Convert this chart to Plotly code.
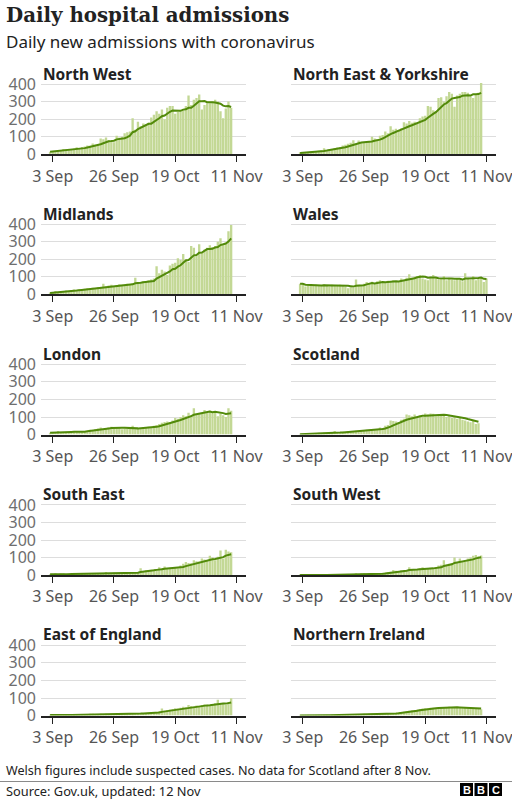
import pandas as pd
import plotly.graph_objects as go

regions = ["North West", "North East & Yorkshire", "Midlands", "Wales", "London",
           "Scotland", "South East", "South West", "East of England", "Northern Ireland"]
start_date = "2020-09-02"

north_west = [15, 18, 14, 22, 24, 30, 27,
              25, 26, 32, 40, 36, 42, 45,
              50, 48, 62, 55, 52, 90, 85,
              95, 80, 72, 68, 105, 95, 100,
              120, 125, 130, 205, 140, 185, 160,
              175, 170, 180, 210, 225, 245, 230,
              255, 200, 265, 275, 275, 230, 240,
              245, 250, 275, 335, 280, 310, 320,
              340, 255, 280, 290, 290, 300, 310,
              300, 245, 205, 260, 300, 265]
north_east_yorkshire = [8, 10, 12, 10, 14, 15, 18,
                        20, 22, 35, 25, 28, 30, 35,
                        38, 42, 50, 55, 60, 65, 80,
                        60, 78, 70, 68, 65, 72, 100,
                        90, 85, 105, 110, 130, 120, 160,
                        140, 145, 135, 150, 182, 175, 190,
                        180, 185, 175, 205, 215, 220, 275,
                        270, 250, 245, 320, 325, 300, 330,
                        355, 345, 270, 335, 345, 355, 355,
                        350, 330, 320, 340, 350, 405]
midlands = [8, 10, 20, 14, 15, 18, 22,
            20, 25, 28, 27, 30, 30, 32,
            35, 33, 38, 36, 40, 42, 60,
            45, 50, 55, 48, 52, 58, 55,
            55, 60, 58, 62, 95, 60, 70,
            75, 72, 80, 85, 90, 160, 120,
            140, 130, 110, 165, 175, 180, 205,
            195, 230, 200, 185, 275, 265, 220,
            285, 240, 255, 265, 280, 270, 275,
            300, 320, 285, 295, 360, 395]
wales = [60, 60, 45, 50, 55, 52, 55,
         50, 48, 58, 50, 45, 55, 52,
         50, 55, 48, 45, 35, 40, 38,
         85, 55, 50, 60, 70, 65, 72,
         60, 75, 80, 70, 65, 78, 72,
         80, 75, 70, 90, 80, 95, 115,
         95, 100, 105, 110, 90, 85, 80,
         100, 110, 95, 85, 90, 105, 80,
         95, 85, 80, 90, 85, 75, 120,
         95, 85, 105, 80, 90, 95, 70,
         90]
london = [10, 12, 15, 20, 12, 14, 15,
          14, 16, 18, 15, 17, 18, 20,
          25, 28, 22, 30, 35, 40, 32,
          38, 42, 45, 40, 38, 42, 30,
          35, 32, 36, 50, 30, 35, 38,
          40, 42, 45, 38, 50, 55, 60,
          68, 72, 75, 70, 80, 95, 90,
          100, 110, 105, 125, 110, 150, 115,
          120, 125, 140, 130, 135, 125, 130,
          105, 120, 110, 100, 150, 135]
scotland = [2, 3, 4, 2, 3, 5, 4,
            6, 5, 8, 7, 10, 9, 20,
            12, 14, 16, 15, 18, 20, 18,
            22, 24, 26, 22, 28, 28, 32,
            30, 26, 40, 38, 50, 55, 80,
            78, 75, 70, 85, 90, 115, 110,
            105, 115, 95, 110, 100, 120, 115,
            120, 118, 105, 112, 115, 110, 100,
            105, 95, 100, 90, 95, 85, 80,
            75, 70, 80, 60, 65]
south_east = [5, 4, 6, 5, 7, 6, 5,
              6, 8, 7, 6, 9, 8, 10,
              9, 8, 7, 10, 9, 8, 11,
              18, 12, 11, 14, 13, 12, 10,
              14, 12, 15, 13, 18, 16, 40,
              22, 28, 30, 25, 32, 35, 45,
              40, 50, 38, 42, 40, 45, 40,
              55, 65, 75, 70, 68, 85, 80,
              78, 95, 90, 85, 110, 100, 85,
              105, 140, 95, 145, 135, 130]
south_west = [1, 2, 1, 2, 1, 2, 1,
              2, 1, 2, 3, 2, 2, 3,
              3, 4, 3, 5, 4, 3, 5,
              6, 5, 7, 6, 5, 6, 8,
              7, 8, 10, 12, 15, 18, 20,
              30, 25, 22, 28, 30, 25, 45,
              30, 35, 32, 40, 45, 35, 40,
              42, 38, 45, 55, 60, 85, 55,
              65, 70, 100, 75, 95, 80, 75,
              95, 100, 110, 115, 108, 112]
east_of_england = [3, 2, 4, 3, 2, 3, 4,
                   3, 4, 5, 4, 3, 5, 4,
                   5, 8, 6, 5, 4, 6, 5,
                   6, 5, 7, 8, 6, 9, 10,
                   8, 10, 12, 11, 13, 12, 14,
                   15, 13, 16, 18, 17, 20, 25,
                   40, 28, 30, 35, 38, 42, 40,
                   45, 50, 48, 60, 55, 52, 58,
                   55, 60, 65, 62, 58, 65, 70,
                   90, 65, 68, 62, 70, 98]
northern_ireland = [1, 2, 1, 2, 2, 1, 2,
                    2, 3, 2, 3, 2, 3, 3,
                    3, 2, 4, 3, 4, 5, 4,
                    5, 4, 5, 6, 5, 6, 7,
                    6, 8, 9, 10, 12, 11, 13,
                    15, 14, 18, 20, 22, 25, 28,
                    30, 32, 35, 38, 40, 42, 40,
                    44, 45, 43, 46, 48, 47, 45,
                    50, 46, 48, 44, 45, 42, 44,
                    42, 40, 43, 38, 40, 36]

series = [north_west, north_east_yorkshire, midlands, wales, london,
          scotland, south_east, south_west, east_of_england, northern_ireland]

tick_dates = ["2020-09-03", "2020-09-26", "2020-10-19", "2020-11-11"]
tick_labels = ["3 Sep", "26 Sep", "19 Oct", "11 Nov"]
y_ticks = [0, 100, 200, 300, 400]
y_tick_labels = ["0", "100", "200", "300", "400"]

W, H = 512, 800
BAR = "#c3d895"
LINE = "#528a0a"
FONT = "Noto Sans"
col_x = [(41, 246), (291, 496)]
zero_px = [154.3, 294.4, 434.6, 575.2, 715.6]
px_per_unit = 0.17575
ymax = 415
x_range = ["2020-08-29 14:00", "2020-11-14 14:00"]

fig = go.Figure()
annotations = []
layout = {}
for k, (name, vals) in enumerate(zip(regions, series)):
    r, c = divmod(k, 2)
    n = k + 1
    xs = "x" if n == 1 else f"x{n}"
    ys = "y" if n == 1 else f"y{n}"
    xkey = "xaxis" if n == 1 else f"xaxis{n}"
    ykey = "yaxis" if n == 1 else f"yaxis{n}"
    dates = pd.date_range(start_date, periods=len(vals), freq="D")
    avg = pd.Series(vals, dtype=float).rolling(7, min_periods=1).mean()
    fig.add_trace(go.Bar(x=dates, y=vals, marker=dict(color=BAR, line=dict(width=0)),
                         xaxis=xs, yaxis=ys, showlegend=False, hoverinfo="skip"))
    fig.add_trace(go.Scatter(x=dates, y=avg, mode="lines", line=dict(color=LINE, width=2),
                             xaxis=xs, yaxis=ys, showlegend=False, hoverinfo="skip"))
    y0 = 1 - zero_px[r] / H
    y1 = 1 - (zero_px[r] - ymax * px_per_unit) / H
    layout[xkey] = dict(domain=[col_x[c][0] / W, col_x[c][1] / W], anchor=ys, type="date",
                        range=x_range, showline=True, linecolor="#222222", linewidth=2,
                        ticks="outside", ticklen=6, tickwidth=1, tickcolor="#222222",
                        tickvals=tick_dates, ticktext=tick_labels, showgrid=False,
                        zeroline=False, automargin=False, ticklabeloverflow="allow",
                        tickfont=dict(family=FONT, size=16, color="#555555"),
                        fixedrange=True)
    layout[ykey] = dict(domain=[y0, y1], anchor=xs, range=[0, ymax], tickvals=y_ticks,
                        ticktext=y_tick_labels, showticklabels=(c == 0), showgrid=True,
                        gridcolor="#dddddd", gridwidth=1, zeroline=False, ticks="",
                        ticklabelstandoff=4, automargin=False, showline=False,
                        tickfont=dict(family=FONT, size=16, color="#6e6e6e"), fixedrange=True)
    annotations.append(dict(text=f"<b>{name}</b>", x=col_x[c][0] / W, y=1 - (74 + 140 * r) / H,
                            xref="paper", yref="paper", xanchor="left", yanchor="middle",
                            showarrow=False, font=dict(family=FONT, size=15.5, color="#222222")))

annotations += [
    dict(text="<b>Daily hospital admissions</b>", x=4 / W, y=1 - 15 / H, xref="paper", yref="paper",
         xanchor="left", yanchor="middle", showarrow=False,
         font=dict(family="DejaVu Serif", size=19.8, color="#222222")),
    dict(text="Daily new admissions with coronavirus", x=4 / W, y=1 - 42 / H, xref="paper", yref="paper",
         xanchor="left", yanchor="middle", showarrow=False,
         font=dict(family=FONT, size=17, color="#222222")),
    dict(text="Welsh figures include suspected cases. No data for Scotland after 8 Nov.",
         x=4 / W, y=1 - 770 / H, xref="paper", yref="paper", xanchor="left", yanchor="middle",
         showarrow=False, font=dict(family=FONT, size=12.6, color="#222222")),
    dict(text="Source: Gov.uk, updated: 12 Nov", x=4 / W, y=1 - 791 / H, xref="paper", yref="paper",
         xanchor="left", yanchor="middle", showarrow=False,
         font=dict(family=FONT, size=12.8, color="#222222")),
]
shapes = [dict(type="line", xref="paper", yref="paper", x0=0, x1=1, y0=1 - 781.5 / H, y1=1 - 781.5 / H,
               line=dict(color="#8a8a8a", width=1))]
for i, letter in enumerate(["B", "B", "C"]):
    x0 = 460 + i * 14.5
    shapes.append(dict(type="rect", xref="paper", yref="paper", x0=x0 / W, x1=(x0 + 13) / W,
                       y0=1 - 796 / H, y1=1 - 783 / H, fillcolor="#000000", line=dict(width=0)))
    annotations.append(dict(text=f"<b>{letter}</b>", x=(x0 + 6.5) / W, y=1 - 789.5 / H,
                            xref="paper", yref="paper", xanchor="center", yanchor="middle",
                            showarrow=False, font=dict(family="Liberation Sans", size=11, color="#ffffff")))

fig.update_layout(template="none", width=W, height=H, autosize=False,
                  margin=dict(l=0, r=0, t=0, b=0, pad=0),
                  paper_bgcolor="white", plot_bgcolor="white", bargap=0.12,
                  annotations=annotations, shapes=shapes, **layout)
fig.write_html("out.html", config={"displayModeBar": False},
               post_script="document.body.style.margin='0';document.body.style.overflow='hidden';")
